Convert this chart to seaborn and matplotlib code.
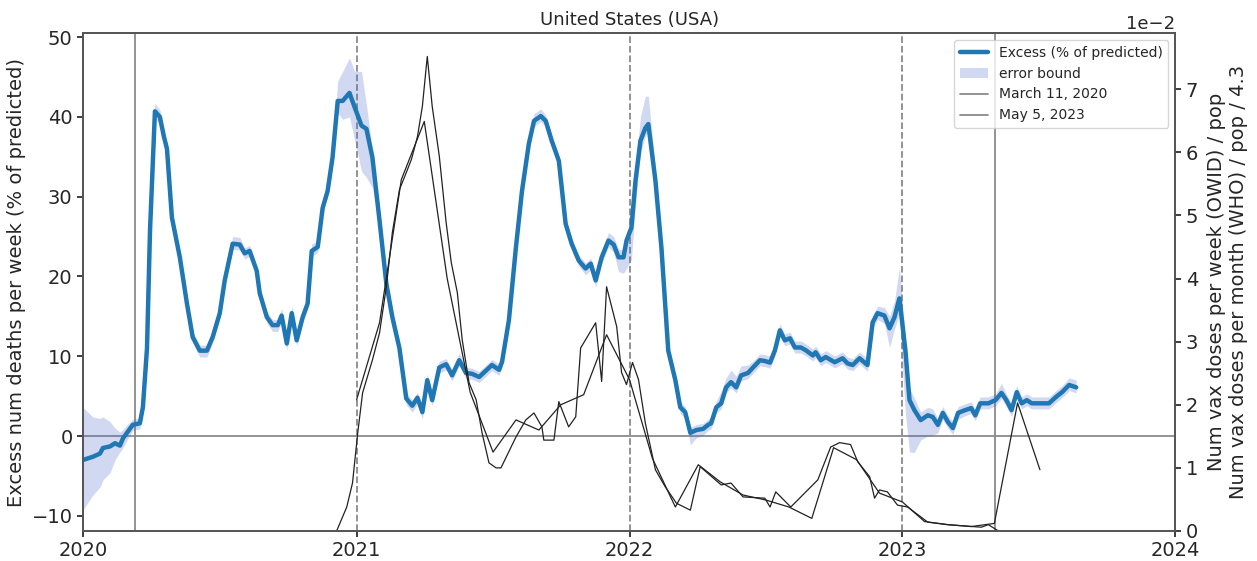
import numpy as np
import pandas as pd
import matplotlib
matplotlib.use("Agg")
import matplotlib.pyplot as plt
import matplotlib.dates as mdates
import seaborn as sns

# ---------------- data ----------------
title = "United States (USA)"

# time in decimal years
excess_t = [
    2020.000, 2020.036, 2020.062, 2020.073, 2020.099, 2020.117, 2020.135, 2020.146, 2020.161, 2020.182,
    2020.208, 2020.219, 2020.234, 2020.245, 2020.263, 2020.281, 2020.296, 2020.307, 2020.325, 2020.339,
    2020.354, 2020.380, 2020.401, 2020.427, 2020.453, 2020.474, 2020.500, 2020.518, 2020.547, 2020.573,
    2020.591, 2020.609, 2020.635, 2020.646, 2020.672, 2020.693, 2020.712, 2020.726, 2020.745, 2020.763,
    2020.781, 2020.803, 2020.821, 2020.836, 2020.858, 2020.876, 2020.894, 2020.912, 2020.931, 2020.949,
    2020.974, 2020.993, 2021.018, 2021.036, 2021.058, 2021.084, 2021.109, 2021.131, 2021.157, 2021.182,
    2021.204, 2021.223, 2021.241, 2021.259, 2021.277, 2021.303, 2021.328, 2021.350, 2021.376, 2021.401,
    2021.423, 2021.449, 2021.474, 2021.496, 2021.522, 2021.533, 2021.558, 2021.584, 2021.606, 2021.631,
    2021.650, 2021.675, 2021.693, 2021.715, 2021.741, 2021.766, 2021.788, 2021.814, 2021.839, 2021.858,
    2021.876, 2021.898, 2021.923, 2021.942, 2021.960, 2021.978, 2021.989, 2022.007, 2022.022, 2022.040,
    2022.058, 2022.069, 2022.095, 2022.117, 2022.142, 2022.168, 2022.186, 2022.204, 2022.223, 2022.245,
    2022.270, 2022.288, 2022.299, 2022.318, 2022.336, 2022.354, 2022.372, 2022.391, 2022.409, 2022.434,
    2022.453, 2022.478, 2022.496, 2022.515, 2022.533, 2022.551, 2022.569, 2022.588, 2022.606, 2022.628,
    2022.646, 2022.672, 2022.682, 2022.701, 2022.719, 2022.752, 2022.781, 2022.799, 2022.818, 2022.843,
    2022.872, 2022.891, 2022.909, 2022.934, 2022.953, 2022.971, 2022.989, 2023.011, 2023.026, 2023.044,
    2023.067, 2023.093, 2023.111, 2023.130, 2023.148, 2023.167, 2023.185, 2023.204, 2023.230, 2023.252,
    2023.267, 2023.285, 2023.315, 2023.341, 2023.363, 2023.381, 2023.400, 2023.419, 2023.437, 2023.456,
    2023.474, 2023.507, 2023.537, 2023.563, 2023.585, 2023.611, 2023.637,
]
excess_pct = [
    -3.0, -2.6, -2.2, -1.5, -1.3, -0.9, -1.2, -0.3, 0.4, 1.4,
    1.6, 3.6, 11.0, 25.7, 40.7, 40.0, 37.5, 36.0, 27.4, 25.0,
    22.4, 16.6, 12.4, 10.7, 10.7, 12.4, 15.4, 19.5, 24.1, 24.0,
    22.9, 23.2, 20.7, 17.9, 14.9, 13.9, 13.9, 15.1, 11.6, 15.4,
    12.0, 14.9, 16.6, 23.2, 23.7, 28.6, 30.7, 34.9, 42.0, 42.0,
    43.0, 41.2, 38.9, 38.5, 34.9, 27.0, 19.1, 14.9, 11.0, 4.7,
    3.8, 4.8, 3.0, 7.0, 4.5, 8.6, 9.0, 7.6, 9.5, 7.9,
    7.8, 7.4, 8.2, 8.9, 8.3, 9.3, 14.5, 23.7, 30.7, 36.6,
    39.5, 40.1, 39.5, 37.0, 34.5, 26.6, 24.1, 22.0, 21.0, 21.6,
    19.5, 22.4, 24.5, 24.0, 22.4, 22.4, 24.5, 26.1, 32.0, 37.0,
    38.6, 39.1, 32.0, 23.6, 10.7, 7.0, 3.6, 3.0, 0.4, 0.75,
    0.9, 1.4, 1.6, 3.6, 4.1, 6.1, 6.75, 6.1, 7.6, 7.9,
    8.6, 9.5, 9.4, 9.2, 10.75, 13.25, 12.0, 12.25, 11.1, 11.1,
    10.75, 10.1, 10.5, 9.5, 9.9, 9.25, 9.75, 9.1, 8.9, 9.75,
    8.9, 14.25, 15.4, 15.1, 13.5, 14.9, 17.25, 10.75, 4.5, 3.25,
    2.0, 2.6, 2.4, 1.4, 2.9, 1.75, 1.0, 2.9, 3.25, 3.5,
    2.6, 4.1, 4.1, 4.5, 5.4, 4.5, 3.25, 5.5, 4.1, 4.5,
    4.1, 4.1, 4.1, 4.9, 5.5, 6.4, 6.1,
]
# distance from the line down to the lower error bound / up to the upper bound
err_below = [
    6.3, 4.8, 4.2, 4.0, 3.3, 2.1, 0.8, 1.2, 0.9, 0.7,
    0.7, 0.7, 0.7, 0.7, 0.9, 0.9, 0.7, 0.7, 0.7, 0.7,
    0.7, 0.7, 0.7, 0.8, 0.8, 0.7, 0.7, 0.7, 0.7, 0.7,
    0.7, 0.7, 0.7, 0.7, 0.7, 0.8, 0.8, 0.7, 0.8, 0.7,
    0.7, 0.7, 0.7, 0.7, 0.7, 0.7, 0.7, 0.7, 1.5, 2.3,
    3.0, 4.2, 5.7, 6.1, 3.8, 0.8, 0.7, 0.7, 0.7, 0.8,
    0.8, 0.8, 0.9, 0.7, 0.7, 0.7, 0.7, 0.7, 0.7, 0.7,
    0.7, 0.7, 0.7, 0.7, 0.7, 0.7, 0.7, 0.7, 0.7, 0.7,
    0.7, 0.7, 0.7, 0.7, 0.7, 0.7, 0.7, 0.7, 0.8, 0.8,
    0.8, 0.8, 0.8, 1.0, 1.8, 2.0, 3.5, 4.0, 3.0, 1.5,
    1.0, 1.0, 0.8, 0.7, 0.7, 0.7, 0.8, 0.8, 1.5, 1.0,
    0.8, 0.7, 0.7, 0.7, 0.7, 0.7, 0.7, 0.7, 0.7, 0.7,
    0.7, 0.7, 0.7, 0.7, 0.7, 0.7, 0.7, 0.7, 0.7, 0.7,
    0.7, 0.7, 0.7, 0.7, 0.7, 0.7, 0.7, 0.7, 0.7, 0.7,
    0.8, 0.8, 0.8, 1.0, 2.4, 1.5, 2.0, 8.0, 6.5, 5.3,
    2.5, 2.6, 2.3, 1.0, 0.8, 0.8, 0.8, 0.8, 0.7, 0.7,
    0.7, 0.7, 0.7, 0.7, 0.7, 0.8, 0.8, 0.7, 0.7, 0.7,
    0.7, 0.7, 0.7, 0.7, 0.7, 0.7, 0.7,
]
err_above = [
    6.6, 5.0, 4.4, 3.9, 3.1, 1.9, 1.7, 1.1, 1.0, 0.7,
    0.7, 0.7, 0.7, 0.7, 1.0, 0.9, 0.7, 0.7, 0.7, 0.7,
    0.7, 0.7, 0.7, 0.7, 0.7, 0.7, 0.7, 0.7, 0.9, 0.9,
    0.7, 0.7, 0.7, 0.7, 0.7, 0.7, 0.7, 0.9, 0.7, 0.9,
    0.7, 0.7, 0.7, 0.9, 0.7, 0.7, 0.7, 0.7, 2.5, 3.7,
    4.4, 4.5, 6.8, 3.0, 1.0, 0.7, 0.7, 0.7, 0.7, 0.7,
    0.7, 0.7, 0.7, 0.8, 0.7, 0.8, 0.7, 0.7, 0.9, 0.7,
    0.7, 0.7, 0.7, 0.7, 0.7, 0.7, 0.7, 0.7, 0.7, 0.7,
    0.9, 0.9, 0.7, 0.7, 0.7, 0.7, 0.7, 0.7, 0.7, 0.7,
    0.8, 0.8, 1.0, 1.0, 1.0, 1.0, 1.0, 1.0, 1.5, 3.0,
    4.0, 3.5, 1.5, 0.8, 0.7, 0.7, 0.7, 0.7, 0.7, 0.7,
    0.7, 0.7, 0.7, 0.8, 1.5, 1.2, 1.5, 1.4, 1.2, 1.0,
    0.8, 0.8, 0.8, 0.8, 0.8, 0.8, 0.8, 0.8, 0.8, 0.8,
    0.8, 0.8, 0.8, 0.8, 0.8, 0.8, 0.8, 0.8, 0.8, 0.8,
    0.8, 0.9, 0.9, 1.0, 1.5, 2.0, 3.9, 1.5, 1.5, 1.5,
    1.0, 1.0, 1.0, 0.8, 0.8, 0.8, 0.8, 0.8, 0.8, 0.8,
    0.8, 0.8, 0.8, 0.8, 1.2, 0.8, 0.8, 0.8, 0.8, 0.8,
    0.8, 0.8, 0.8, 0.8, 0.8, 0.9, 0.9,
]

# weekly vaccine doses (OWID) / population, in units of 1e-2
owid_t = [
    2020.927, 2020.964, 2020.985, 2021.004, 2021.022, 2021.058, 2021.084, 2021.109, 2021.131, 2021.157,
    2021.182, 2021.201, 2021.223, 2021.241, 2021.259, 2021.277, 2021.303, 2021.328, 2021.347, 2021.369,
    2021.387, 2021.412, 2021.438, 2021.460, 2021.485, 2021.511, 2021.529, 2021.584, 2021.620, 2021.650,
    2021.679, 2021.686, 2021.723, 2021.741, 2021.777, 2021.803, 2021.821, 2021.876, 2021.898, 2021.916,
    2021.953, 2021.971, 2021.989, 2022.011, 2022.033, 2022.058, 2022.095, 2022.131, 2022.172, 2022.223,
    2022.259, 2022.336, 2022.372, 2022.416, 2022.496, 2022.515, 2022.536, 2022.591, 2022.690, 2022.737,
    2022.770, 2022.810, 2022.836, 2022.880, 2022.898, 2022.916, 2022.945, 2022.982, 2023.019, 2023.093,
    2023.167, 2023.289, 2023.315, 2023.352,
]
owid_doses_e2 = [
    0.0, 0.38, 0.76, 1.55, 2.19, 2.71, 3.14, 3.87, 4.73, 5.41,
    5.68, 5.89, 6.25, 6.73, 7.52, 6.73, 5.94, 4.89, 4.25, 3.78,
    3.03, 2.35, 2.08, 1.55, 1.08, 1.0, 1.0, 1.49, 1.76, 1.87,
    1.65, 1.44, 1.44, 2.05, 1.65, 1.81, 2.9, 3.3, 2.37, 3.87,
    3.24, 2.51, 2.32, 2.67, 2.4, 1.71, 0.97, 0.7, 0.44, 0.33,
    1.02, 0.73, 0.76, 0.54, 0.52, 0.38, 0.62, 0.38, 0.81, 1.33,
    1.40, 1.37, 1.10, 0.86, 0.52, 0.65, 0.62, 0.41, 0.38, 0.14,
    0.10, 0.06, 0.10, 0.0,
]

# monthly vaccine doses (WHO) / population / 4.3, in units of 1e-2
who_t = [
    2021.000, 2021.084, 2021.164, 2021.248, 2021.332, 2021.416, 2021.500, 2021.584, 2021.668, 2021.748,
    2021.832, 2021.916, 2022.000, 2022.084, 2022.168, 2022.252, 2022.332, 2022.416, 2022.500, 2022.584,
    2022.668, 2022.748, 2022.832, 2022.916, 2023.000, 2023.081, 2023.167, 2023.252, 2023.337, 2023.422,
    2023.504,
]
who_doses_e2 = [
    2.08, 3.3, 5.57, 6.49, 4.0, 2.2, 1.25, 1.76, 1.6, 2.0,
    2.16, 3.11, 2.4, 1.15, 0.38, 1.05, 0.78, 0.57, 0.49, 0.38,
    0.2, 1.32, 1.13, 0.6, 0.46, 0.15, 0.1, 0.07, 0.12, 2.03,
    0.97,
]

year_lines = ["2021-01-01", "2022-01-01", "2023-01-01"]
event_dates = ["2020-03-11", "2023-05-05"]
event_labels = ["March 11, 2020", "May 5, 2023"]
x_range = ["2020-01-01", "2024-01-01"]


def to_dates(ts):
    out = []
    for t in ts:
        y = int(np.floor(t + 1e-9))
        frac = t - y
        a = pd.Timestamp(year=y, month=1, day=1)
        b = pd.Timestamp(year=y + 1, month=1, day=1)
        out.append(a + (b - a) * frac)
    return pd.to_datetime(out)


# ---------------- plotting ----------------
sns.set_theme(style="ticks")
plt.rcParams["font.family"] = ["DejaVu Sans"]
plt.rcParams["axes.edgecolor"] = "#555555"

fig = plt.figure(figsize=(12.57, 5.61), dpi=100)
ax = fig.add_axes([0.066, 0.0535, 0.869, 0.8875])

exc = pd.DataFrame({
    "date": to_dates(excess_t),
    "excess": excess_pct,
    "lo": np.array(excess_pct) - np.array(err_below),
    "hi": np.array(excess_pct) + np.array(err_above),
})

band = ax.fill_between(exc["date"], exc["lo"], exc["hi"], color="#4a66c8",
                       alpha=0.25, lw=0, label="error bound", zorder=2)
sns.lineplot(data=exc, x="date", y="excess", ax=ax, color="#1f77b4", lw=3.2,
             label="Excess (% of predicted)", zorder=3)
main_line = ax.lines[-1]
if ax.get_legend() is not None:
    ax.get_legend().remove()

ax.axhline(0, color="#8a8a8a", lw=1.3, zorder=1)
for d in year_lines:
    ax.axvline(pd.Timestamp(d), color="#8a8a8a", ls="--", lw=1.3, zorder=1)
ev_handles = []
for d, lab in zip(event_dates, event_labels):
    ev_handles.append(ax.axvline(pd.Timestamp(d), color="#8a8a8a", lw=1.3, label=lab, zorder=1))

ax.set_xlim(pd.Timestamp(x_range[0]), pd.Timestamp(x_range[1]))
ax.set_ylim(-11.9, 50.5)
ax.set_yticks([-10, 0, 10, 20, 30, 40, 50])
ax.xaxis.set_major_locator(mdates.YearLocator())
ax.xaxis.set_major_formatter(mdates.DateFormatter("%Y"))
ax.set_xlabel("")
ax.set_ylabel("Excess num deaths per week (% of predicted)", fontsize=14)
ax.tick_params(axis="both", labelsize=14, length=4)
ax.set_title(title, fontsize=13)

ax2 = ax.twinx()
owid = pd.DataFrame({"date": to_dates(owid_t), "doses": np.array(owid_doses_e2) * 1e-2})
who = pd.DataFrame({"date": to_dates(who_t), "doses": np.array(who_doses_e2) * 1e-2})
sns.lineplot(data=owid, x="date", y="doses", ax=ax2, color="#222222", lw=0.9, legend=False)
sns.lineplot(data=who, x="date", y="doses", ax=ax2, color="#222222", lw=0.9, legend=False)
ax2.set_ylim(0, 0.0789)
ax2.set_yticks([i * 0.01 for i in range(8)])
ax2.ticklabel_format(axis="y", style="sci", scilimits=(0, 0))
ax2.yaxis.get_offset_text().set_fontsize(13)
ax2.set_xlabel("")
ax2.set_ylabel("Num vax doses per week (OWID) / pop\nNum vax doses per month (WHO) / pop / 4.3",
               fontsize=14, labelpad=6)
ax2.tick_params(axis="y", labelsize=14, length=4)
ax2.set_xlim(pd.Timestamp(x_range[0]), pd.Timestamp(x_range[1]))

ax2.legend([main_line, band] + ev_handles,
           ["Excess (% of predicted)", "error bound"] + event_labels,
           loc="upper right", fontsize=10, frameon=True)

fig.savefig("out.png", dpi=100)
